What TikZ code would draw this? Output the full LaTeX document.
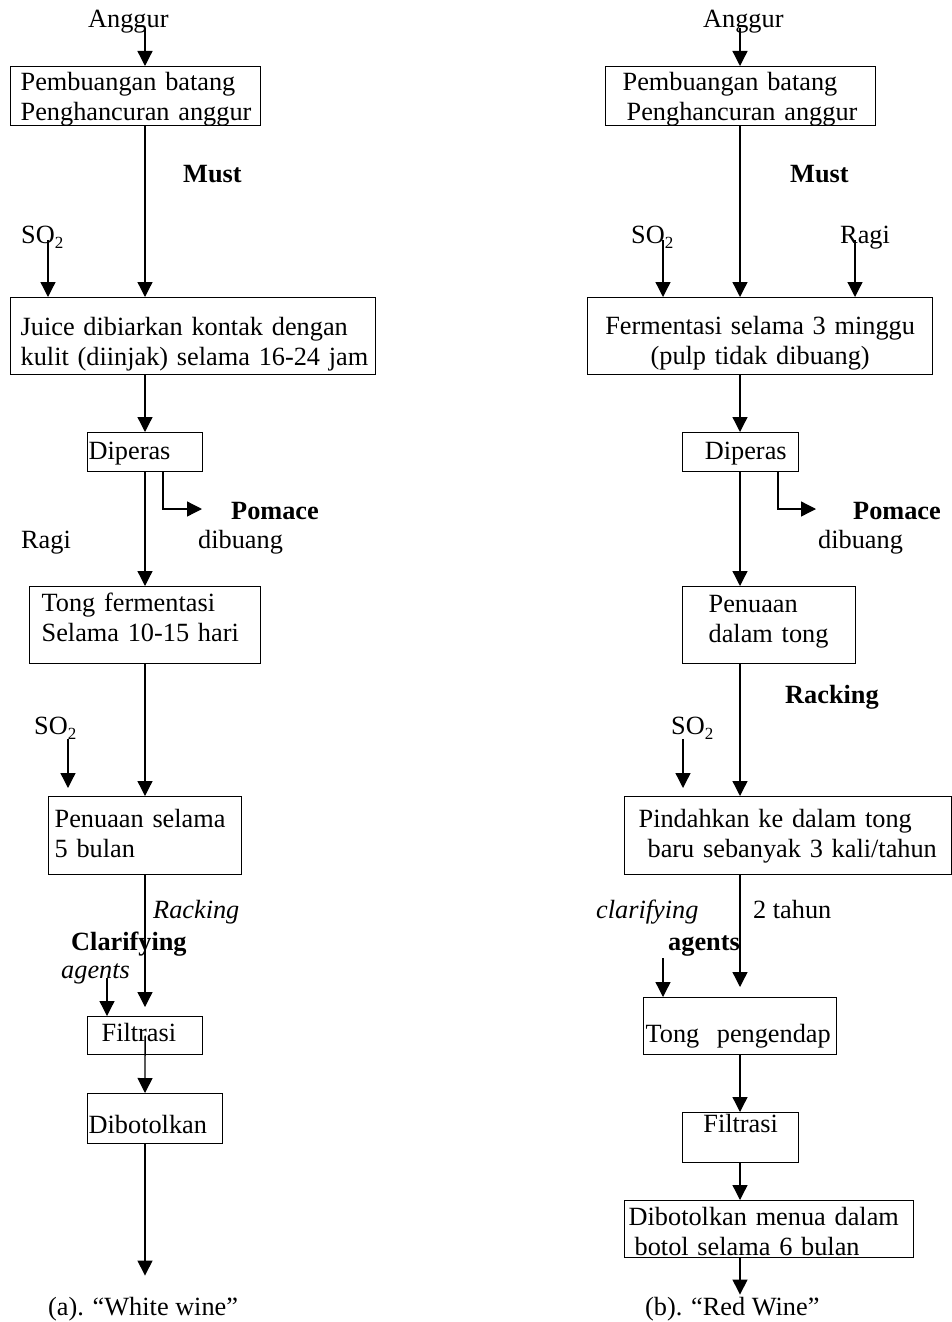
\documentclass[tikz,border=0pt]{standalone}
\usepackage{fontspec}
\setmainfont{Liberation Serif}
\usetikzlibrary{arrows.meta}

\newcommand{\sub}[1]{{\fontsize{17}{17}\selectfont\raisebox{-5pt}{#1}}}

\tikzset{
	kotak/.style={draw, line width=1.3pt, inner ysep=0pt, align=left, anchor=north west},
	teks/.style={inner sep=0pt, anchor=base west},
	panah/.style={line width=1.3pt, -{Triangle[length=15pt,width=15pt]}}
}

\begin{document}
\begin{tikzpicture}[x=1pt, y=-1pt, font=\fontsize{26.3}{30}\selectfont]
		\useasboundingbox (0,0) rectangle (952,1322);
		\coordinate (tL) at (145,0);
		\coordinate (tR) at (740,0);

		% (a) white wine
		\node[teks] (angL) at (88,28) {Anggur};
		\node[kotak, inner xsep=10pt, text width=230pt, text height=24pt, text depth=35pt] (b1L) at (10,66) {\mbox{Pembuangan batang}\\\mbox{Penghancuran anggur}};
		\node[teks] (mustL) at (183,182) {\textbf{Must}};
		\node[teks] (so1L) at (21,243) {SO\sub{2}};
		\node[kotak, inner xsep=10pt, text width=345pt, text height=38pt, text depth=39pt] (b2L) at (10,297) {\mbox{Juice dibiarkan kontak dengan}\\\mbox{kulit (diinjak) selama 16-24 jam}};
		\node[kotak, inner xsep=1pt, text width=113pt, text height=27pt, text depth=12pt] (dipL) at (87,432) {Diperas};
		\node[teks] (pomL) at (231,519) {\textbf{Pomace}};
		\node[teks] (bngL) at (198,548) {dibuang};
		\node[teks] (ragiL) at (21,548) {Ragi};
		\node[kotak, inner xsep=12pt, text width=207pt, text height=25pt, text depth=52pt] (tongL) at (29,586) {\mbox{Tong fermentasi}\\\mbox{Selama 10-15 hari}};
		\node[teks] (so2L) at (34,734) {SO\sub{2}};
		\node[kotak, inner xsep=6pt, text width=181pt, text height=31pt, text depth=47pt] (penL) at (48,796) {\mbox{Penuaan selama}\\5 bulan};
		\node[teks] (rackL) at (153,918) {\textit{Racking}};
		\node[teks] (clarL) at (71,950) {\textbf{Clarifying}};
		\node[teks] (agL) at (61,978) {\textit{agents}};
		\node[kotak, inner xsep=14pt, text width=87pt, text height=25pt, text depth=13pt] (filL) at (87,1016) {Filtrasi};
		\node[kotak, inner xsep=1pt, text width=133pt, text height=40pt, text depth=10pt] (dibL) at (87,1093) {Dibotolkan};
		\node[teks] (capL) at (48,1315) {(a). “White wine”};

		\draw[panah] (angL.base -| tL) -- (b1L.north -| tL);
		\draw[panah] (b1L.south -| tL) -- (b2L.north -| tL);
		\draw[panah] (so1L.base west) ++(27,-3) coordinate (p1) -- (p1 |- b2L.north);
		\draw[panah] (b2L.south -| tL) -- (dipL.north -| tL);
		\draw[panah] (dipL.south -| tL) -- (tongL.north -| tL);
		\draw[panah] (dipL.south west) ++(76,0) |- ([shift={(-29,-10)}]pomL.base west);
		\draw[panah] (tongL.south -| tL) -- (penL.north -| tL);
		\draw[panah, shorten >=8pt] (so2L.base west) ++(34,5) coordinate (p2) -- (p2 |- penL.north);
		\draw[panah, shorten >=9pt] (penL.south -| tL) -- (filL.north -| tL);
		\draw[panah] (agL.base west) ++(46,0) coordinate (p3) -- (p3 |- filL.north);
		\draw[panah] (filL.center) -- (dibL.north -| tL);
		\draw[panah, shorten >=21pt] (dibL.south -| tL) -- (capL.north -| tL);

		% (b) red wine
		\node[teks] (angR) at (703,28) {Anggur};
		\node[kotak, inner xsep=17pt, text width=236pt, text height=24pt, text depth=35pt] (b1R) at (605,66) {\mbox{Pembuangan batang}\\\mbox{\hspace*{4pt}Penghancuran anggur}};
		\node[teks] (mustR) at (790,182) {\textbf{Must}};
		\node[teks] (so1R) at (631,243) {SO\sub{2}};
		\node[teks] (ragiR) at (840,243) {Ragi};
		\node[kotak, align=center, inner xsep=10pt, text width=325pt, text height=37pt, text depth=40pt] (b2R) at (587,297) {\mbox{Fermentasi selama 3 minggu}\\\mbox{(pulp tidak dibuang)}};
		\node[kotak, align=right, inner xsep=12pt, text width=92pt, text height=27pt, text depth=12pt] (dipR) at (682,432) {Diperas};
		\node[teks] (pomR) at (853,519) {\textbf{Pomace}};
		\node[teks] (bngR) at (818,548) {dibuang};
		\node[kotak, inner xsep=26pt, text width=121pt, text height=26pt, text depth=51pt] (penR) at (682,586) {Penuaan\\\mbox{dalam tong}};
		\node[teks] (rackR) at (785,703) {\textbf{Racking}};
		\node[teks] (so2R) at (671,734) {SO\sub{2}};
		\node[kotak, inner xsep=14pt, text width=299pt, text height=31pt, text depth=47pt] (pinR) at (624,796) {\mbox{Pindahkan ke dalam tong}\\\mbox{\hspace*{9pt}baru sebanyak 3 kali/tahun}};
		\node[teks] (clarR) at (596,918) {\textit{clarifying}};
		\node[teks] (thnR) at (753,918) {2 tahun};
		\node[teks] (agR) at (668,950) {\textbf{agents}};
		\node[kotak, inner xsep=2pt, text width=189pt, text height=45pt, text depth=12pt] (tongR) at (643,997) {\mbox{Tong~~pengendap}};
		\node[kotak, align=center, inner xsep=1pt, text width=114pt, text height=20pt, text depth=30pt] (filR) at (682,1112) {Filtrasi};
		\node[kotak, inner xsep=4pt, text width=281pt, text height=25pt, text depth=32pt] (dibR) at (624,1200) {\mbox{Dibotolkan menua dalam}\\\mbox{\hspace*{6pt}botol selama 6 bulan}};
		\node[teks] (capR) at (645,1315) {(b). “Red Wine”};

		\draw[panah] (angR.base -| tR) -- (b1R.north -| tR);
		\draw[panah] (b1R.south -| tR) -- (b2R.north -| tR);
		\draw[panah] (so1R.base west) ++(32,-3) coordinate (q1) -- (q1 |- b2R.north);
		\draw[panah] (ragiR.base west) ++(15,-3) coordinate (q2) -- (q2 |- b2R.north);
		\draw[panah] (b2R.south -| tR) -- (dipR.north -| tR);
		\draw[panah] (dipR.south -| tR) -- (penR.north -| tR);
		\draw[panah] (dipR.south west) ++(96,0) |- ([shift={(-37,-10)}]pomR.base west);
		\draw[panah] (penR.south -| tR) -- (pinR.north -| tR);
		\draw[panah, shorten >=8pt] (so2R.base west) ++(12,5) coordinate (q3) -- (q3 |- pinR.north);
		\draw[panah, shorten >=10pt] (pinR.south -| tR) -- (tongR.north -| tR);
		\draw[panah] (agR.base west) ++(-5,8) coordinate (q4) -- (q4 |- tongR.north);
		\draw[panah] (tongR.south -| tR) -- (filR.north -| tR);
		\draw[panah] (filR.south -| tR) -- (dibR.north -| tR);
		\draw[panah, shorten >=2pt] (dibR.south -| tR) -- (capR.north -| tR);
	\end{tikzpicture}
\end{document}
